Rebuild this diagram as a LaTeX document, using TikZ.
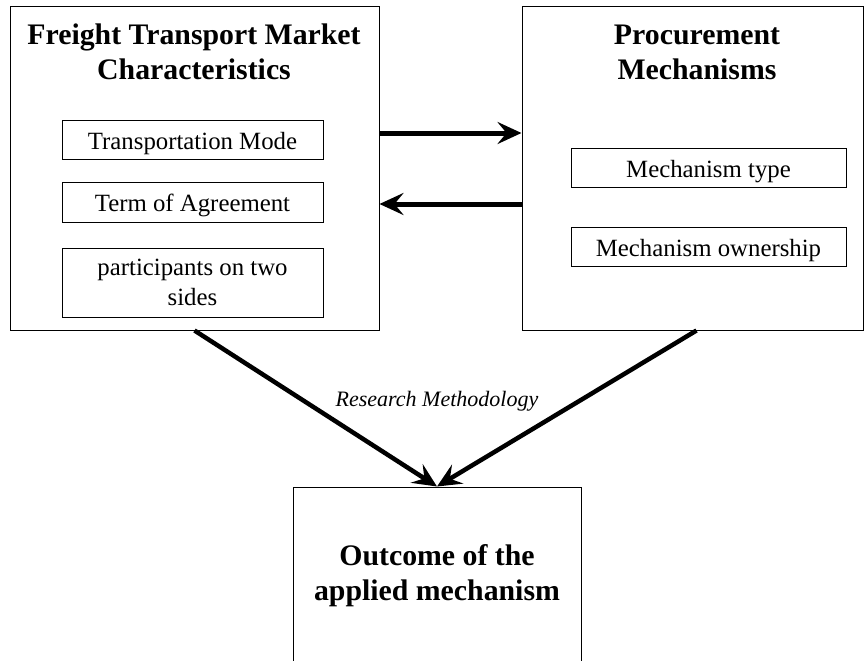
\documentclass[tikz,border=0pt]{standalone}
\usepackage{fontspec}
\setmainfont{Liberation Serif}
\usetikzlibrary{arrows.meta}
\begin{document}
\begin{tikzpicture}[x=1pt,y=-1pt,
  bigbox/.style={draw,line width=1pt,rectangle,inner sep=0pt},
  itembox/.style={draw,line width=1pt,rectangle,inner sep=0pt,minimum height=39pt,
    font=\fontsize{24.8}{30}\selectfont,align=center},
  oneline/.style={itembox,text depth=0pt},
  title/.style={font=\fontsize{29.8}{35}\selectfont\bfseries,align=center,inner sep=0pt},
  bigarrow/.style={line width=5pt,-{Stealth[length=24pt,width=22pt,inset=9pt]}}]
\useasboundingbox (0,0) rectangle (865,661);
\clip (0,0) rectangle (865,661);
\fill[white] (0,0) rectangle (865,661);
% boxes
\node[bigbox,minimum width=369pt,minimum height=323pt] (L) at (194.5,168.5) {};
\node[bigbox,minimum width=341pt,minimum height=323pt] (R) at (692.5,168.5) {};
\node[bigbox,minimum width=288pt,minimum height=213pt] (B) at (437,593.5) {};
% titles
\node[title] (Lt) at (194,52) {Freight Transport Market\\Characteristics};
\node[title] (Rt) at (697,52) {Procurement\\Mechanisms};
\node[title] (Bt) at (437,576) {Outcome of the\\applied mechanism};
% items
\node[oneline,minimum width=261pt] (I1) at (192.5,139.5) {\raisebox{-2pt}{Transportation Mode}};
\node[oneline,minimum width=261pt,minimum height=40pt] (I2) at (192.5,202) {\raisebox{-2pt}{Term of Agreement}};
\node[itembox,minimum width=261pt,minimum height=69pt] (I3) at (192.5,282.5) {participants on two\\sides};
\node[oneline,minimum width=275pt] (J1) at (708.5,167.5) {\raisebox{-2pt}{Mechanism type}};
\node[oneline,minimum width=275pt] (J2) at (708.5,246.5) {\raisebox{-2pt}{Mechanism ownership}};
% arrows
\draw[bigarrow] (L.east |- 0,133) -- (R.west |- 0,133);
\draw[bigarrow] (R.west |- 0,204) -- (L.east |- 0,204);
\draw[bigarrow,line width=4.5pt] (L.south) -- (B.north);
\draw[bigarrow,line width=4.5pt] ([xshift=4pt]R.south) -- (B.north);
\node[font=\fontsize{22}{26}\selectfont\itshape,inner sep=0pt] (RM) at (437,401) {Research Methodology};
\end{tikzpicture}
\end{document}
